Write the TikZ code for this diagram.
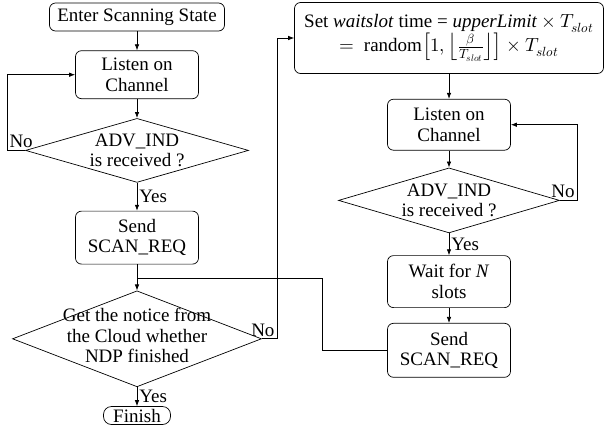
\documentclass[tikz,border=0pt]{standalone}
\usepackage{amsmath}
\usepackage{unicode-math}
\setmainfont{Liberation Serif}
\setmathfont{Latin Modern Math}
\usetikzlibrary{arrows.meta,positioning,calc,shapes.geometric}

\begin{document}
\begin{tikzpicture}[x=1pt, y=-1pt, node distance=19pt, >={Latex[length=6pt,width=4.5pt]},
  font=\fontsize{19}{20.5}\selectfont, line width=0.7pt]
\tikzstyle{proc}=[draw, rounded corners=6pt, minimum width=123pt,
                  minimum height=50pt, align=center, inner sep=2pt]
\tikzstyle{dec}=[draw, diamond, inner sep=0pt]
\tikzstyle{lbl}=[inner sep=2pt]

\useasboundingbox (0,0) rectangle (605,432);

% left column
\node[proc, minimum width=175pt, minimum height=28pt] (start) at (137,17) {Enter Scanning State};
\node[proc, below=19pt of start, minimum height=48pt] (listenL) {Listen on\\Channel};
\node[dec, below=19pt of listenL, minimum width=223pt, minimum height=64pt] (advL) {};
\node[align=center] (advLtxt) at (advL) {ADV\_IND\\is received ?};
\node[proc, below=28pt of advL, minimum height=53pt] (sendL) {Send\\SCAN\_REQ};
\node[dec, below=26pt of sendL, minimum width=249pt, minimum height=96pt] (cloudq) {};
\node[align=center] (cloudqtxt) at ([yshift=3pt]cloudq) {Get the notice from\\the Cloud whether\\NDP finished};
\node[draw, rounded corners=8pt, minimum width=67pt, minimum height=18pt,
      inner sep=1pt, below=19pt of cloudq] (finish) {Finish};

% right column
\node[proc, minimum width=309pt, minimum height=71pt] (wslot) at (449,38)
  {Set \textit{waitslot} time = \textit{upperLimit}${}\times T_{slot}$\\
   $=$\ \ random$\left[1,\left\lfloor\frac{\beta}{T_{slot}}\right\rfloor\right]\times T_{slot}$};
\node[proc, below=25pt of wslot, minimum height=51pt] (listenR) {Listen on\\Channel};
\node[dec, below=17pt of listenR, minimum width=221pt, minimum height=65pt] (advR) {};
\node[align=center] (advRtxt) at (advR) {ADV\_IND\\is received ?};
\node[proc, below=22pt of advR, minimum height=52pt] (waitN) {Wait for \textit{N}\\slots};
\node[proc, below=15pt of waitN, minimum height=54pt] (sendR) {Send\\SCAN\_REQ};

\coordinate (mrg) at ($(sendL.south)!0.55!(cloudq.north)$);

\draw[->] (start) -- (listenL);
\draw[->] (listenL) -- (advL);
\draw[->] (advL) -- node[right, lbl] {Yes} (sendL);
\draw[->] (advL.west) -- ++(-18,0) node[above right, lbl] {No} |- (listenL.west);
\draw[->] (sendL) -- (cloudq);
\draw[->] (cloudq) -- node[right, lbl] {Yes} (finish);
\draw[->] (cloudq.east) -- ++(15,0) node[above left, lbl] {No} |- (wslot.west);

\draw[->] (wslot) -- (listenR);
\draw[->] (listenR) -- (advR);
\draw[->] (advR) -- node[right, lbl] {Yes} (waitN);
\draw[->] (advR.east) -- ++(17,0) node[above left, lbl] {No} |- (listenR.east);
\draw[->] (waitN) -- (sendR);
\draw (sendR.west) -- ++(-65,0) |- (mrg);

\end{tikzpicture}
\end{document}
